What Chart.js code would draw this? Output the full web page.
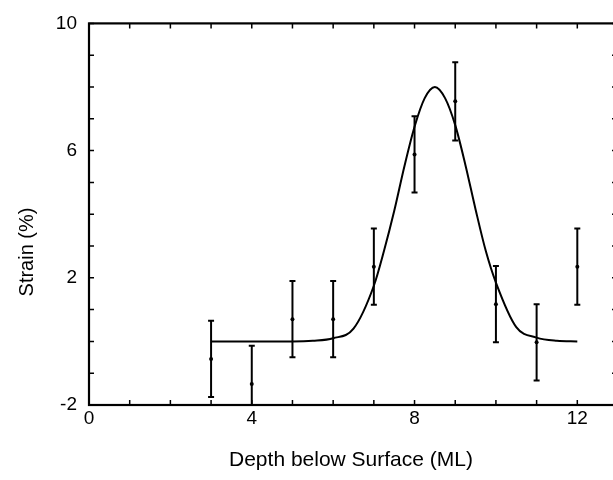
<!DOCTYPE html>
<html>
<head>
<meta charset="utf-8">
<script src="https://cdn.jsdelivr.net/npm/chart.js@4.4.1/dist/chart.umd.min.js"></script>
<style>
  html, body { margin: 0; padding: 0; background: #fff; }
  #wrap { width: 613px; height: 480px; overflow: hidden; position: relative; }
  #box { width: 630px; height: 480px; }
</style>
</head>
<body>
<div id="wrap"><div id="box"><canvas id="mycanvas"></canvas></div></div>
<script>
// measured points with error bars
var depth = [3, 4, 5, 6, 7, 8, 9, 10, 11, 12];
var strain = [-0.55, -1.34, 0.7, 0.7, 2.35, 5.88, 7.55, 1.17, -0.03, 2.35];
var strainErr = [1.2, 1.2, 1.2, 1.2, 1.2, 1.2, 1.23, 1.2, 1.2, 1.2];

// fitted curve
var fitX = [3, 4, 5, 5.5, 6, 6.5, 7, 7.25, 7.5, 7.75, 8, 8.25, 8.5, 8.75, 9, 9.25, 9.5, 9.75, 10, 10.5, 11, 11.5, 12];
var fitY = [0, 0, 0, 0.02, 0.1, 0.4, 1.75, 2.85, 4.1, 5.5, 6.75, 7.65, 8, 7.65, 6.8, 5.55, 4.15, 2.85, 1.85, 0.45, 0.12, 0.02, 0];

var xTicks = [0, 4, 8, 12];
var yTicks = [-2, 2, 6, 10];

var FONT = "'Liberation Sans', Arial, Helvetica, sans-serif";

var frame = {
  id: 'frame',
  beforeDatasetsDraw: function (chart) {
    var ctx = chart.ctx, a = chart.chartArea;
    var xs = chart.scales.x, ys = chart.scales.y;
    ctx.save();
    ctx.strokeStyle = '#000';
    ctx.lineWidth = 1.5;
    ctx.beginPath();
    for (var v = 0; v <= 13; v++) {
      var px = xs.getPixelForValue(v);
      ctx.moveTo(px, a.bottom); ctx.lineTo(px, a.bottom - 5);
      ctx.moveTo(px, a.top); ctx.lineTo(px, a.top + 5);
    }
    for (var w = -2; w <= 10; w++) {
      var py = ys.getPixelForValue(w);
      ctx.moveTo(a.left, py); ctx.lineTo(a.left + 5, py);
      ctx.moveTo(a.right, py); ctx.lineTo(a.right - 6, py);
    }
    ctx.stroke();
    ctx.lineWidth = 2.2;
    ctx.strokeRect(a.left, a.top, a.right - a.left, a.bottom - a.top);
    ctx.restore();
  },
  afterDatasetsDraw: function (chart) {
    var ctx = chart.ctx, a = chart.chartArea;
    var xs = chart.scales.x, ys = chart.scales.y;
    ctx.save();
    ctx.beginPath();
    ctx.rect(a.left, a.top, a.right - a.left, a.bottom - a.top);
    ctx.clip();
    ctx.strokeStyle = '#000';
    ctx.lineWidth = 2;
    ctx.beginPath();
    for (var i = 0; i < depth.length; i++) {
      var px = xs.getPixelForValue(depth[i]);
      var top = ys.getPixelForValue(strain[i] + strainErr[i]);
      var bot = ys.getPixelForValue(strain[i] - strainErr[i]);
      ctx.moveTo(px, top); ctx.lineTo(px, bot);
      ctx.moveTo(px - 3, top); ctx.lineTo(px + 3, top);
      ctx.moveTo(px - 3, bot); ctx.lineTo(px + 3, bot);
    }
    ctx.stroke();
    ctx.restore();

    ctx.save();
    ctx.fillStyle = '#000';
    ctx.font = '21px ' + FONT;
    ctx.textAlign = 'center';
    ctx.textBaseline = 'middle';
    ctx.fillText('Depth below Surface (ML)', 351, 460);
    ctx.font = '20px ' + FONT;
    ctx.translate(27, 252);
    ctx.rotate(-Math.PI / 2);
    ctx.fillText('Strain (%)', 0, 0);
    ctx.restore();
  }
};

var chartdata = {
  datasets: [
    {
      label: 'fit',
      data: fitX.map(function (x, i) { return { x: x, y: fitY[i] }; }),
      showLine: true,
      borderColor: '#000',
      borderWidth: 2,
      pointRadius: 0,
      cubicInterpolationMode: 'monotone',
      fill: false
    },
    {
      label: 'data',
      data: depth.map(function (x, i) { return { x: x, y: strain[i] }; }),
      showLine: false,
      pointRadius: 2,
      pointBackgroundColor: '#000',
      pointBorderWidth: 0
    }
  ]
};

var ctx = document.getElementById('mycanvas');
var chart = new Chart(ctx, {
  type: 'scatter',
  data: chartdata,
  options: {
    responsive: true,
    maintainAspectRatio: false,
    animation: false,
    layout: { padding: { top: 21, right: 12, left: 0, bottom: 0 } },
    plugins: { legend: { display: false }, tooltip: { enabled: false } },
    scales: {
      x: {
        type: 'linear', min: 0, max: 13,
        grid: { display: false, drawTicks: false },
        border: { display: false },
        afterBuildTicks: function (s) { s.ticks = xTicks.map(function (v) { return { value: v }; }); },
        afterFit: function (s) { s.height = 75; },
        ticks: { color: '#000', padding: 2, font: { family: FONT, size: 19 }, maxRotation: 0 }
      },
      y: {
        type: 'linear', min: -2, max: 10,
        grid: { display: false, drawTicks: false },
        border: { display: false },
        afterBuildTicks: function (s) { s.ticks = yTicks.map(function (v) { return { value: v }; }); },
        afterFit: function (s) { s.width = 89; },
        ticks: { color: '#000', padding: 12, font: { family: FONT, size: 19 } }
      }
    }
  },
  plugins: [frame]
});
</script>
</body>
</html>
